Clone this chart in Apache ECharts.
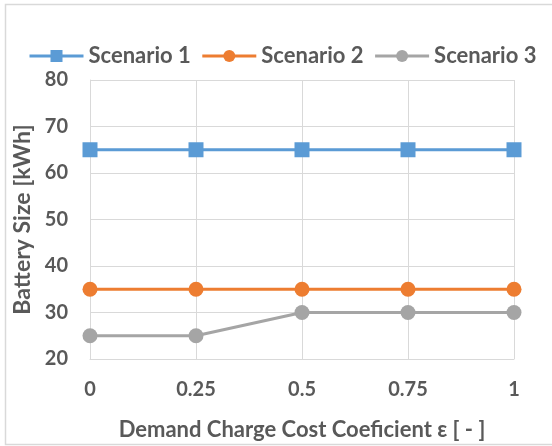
<!DOCTYPE html>
<html><head><meta charset="utf-8">
<script src="https://cdn.jsdelivr.net/npm/echarts@6/dist/echarts.min.js"></script>
<style>html,body{margin:0;padding:0;background:#fff}#c{width:552px;height:446px}</style>
</head><body><div id="c"></div>
<script>
const categories = ['0', '0.25', '0.5', '0.75', '1'];
const scenario1 = [65, 65, 65, 65, 65];
const scenario2 = [35, 35, 35, 35, 35];
const scenario3 = [25, 25, 30, 30, 30];
const seriesNames = ['Scenario 1', 'Scenario 2', 'Scenario 3'];
const yTicks = { min: 20, max: 80, interval: 10 };

const font = 'Lato, "Open Sans", sans-serif';
const txt = '#595959';
const chart = echarts.init(document.getElementById('c'), null, { renderer: 'canvas' });
function mk(name, data, color, symbol, size) {
  return {
    name, type: 'line', data, symbol, symbolSize: size,
    lineStyle: { color, width: 3 }, itemStyle: { color },
    emphasis: { disabled: true }, z: 3
  };
}
chart.setOption({
  animation: false,
  graphic: [{ type: 'rect', shape: { x: 5.5, y: 4.5, width: 600, height: 440 },
    style: { fill: 'none', stroke: '#D9D9D9', lineWidth: 1.5 }, silent: true }],
  legend: {
    top: 40, left: 23, itemWidth: 54, itemHeight: 15, itemGap: 10,
    lineStyle: { width: 3 },
    textStyle: { color: txt, fontSize: 22, fontWeight: 'bold', fontFamily: font },
    data: seriesNames
  },
  grid: { left: 90, right: 38, top: 80, bottom: 86, containLabel: false },
  xAxis: {
    type: 'category', data: categories, boundaryGap: false,
    name: 'Demand Charge Cost Coeficient ε [ - ]', nameLocation: 'middle', nameGap: 60,
    nameTextStyle: { color: txt, fontSize: 22, fontWeight: 'bold', fontFamily: font },
    axisLine: { lineStyle: { color: '#D9D9D9', width: 1 } },
    axisTick: { show: false },
    axisLabel: { color: txt, fontSize: 20, fontWeight: 'bold', fontFamily: font, margin: 21 },
    splitLine: { show: true, lineStyle: { color: '#D9D9D9', width: 1 } }
  },
  yAxis: {
    type: 'value', min: yTicks.min, max: yTicks.max, interval: yTicks.interval,
    name: 'Battery Size [kWh]', nameLocation: 'middle', nameGap: 52,
    nameTextStyle: { color: txt, fontSize: 23, fontWeight: 'bold', fontFamily: font },
    axisLine: { show: true, lineStyle: { color: '#D9D9D9', width: 1 } },
    axisTick: { show: false },
    axisLabel: { color: txt, fontSize: 20, fontWeight: 'bold', fontFamily: font, margin: 22 },
    splitLine: { show: true, lineStyle: { color: '#D9D9D9', width: 1 } }
  },
  series: [
    mk(seriesNames[0], scenario1, '#5B9BD5', 'rect', 15),
    mk(seriesNames[1], scenario2, '#ED7D31', 'circle', 15),
    mk(seriesNames[2], scenario3, '#A5A5A5', 'circle', 15)
  ]
});
</script></body></html>
